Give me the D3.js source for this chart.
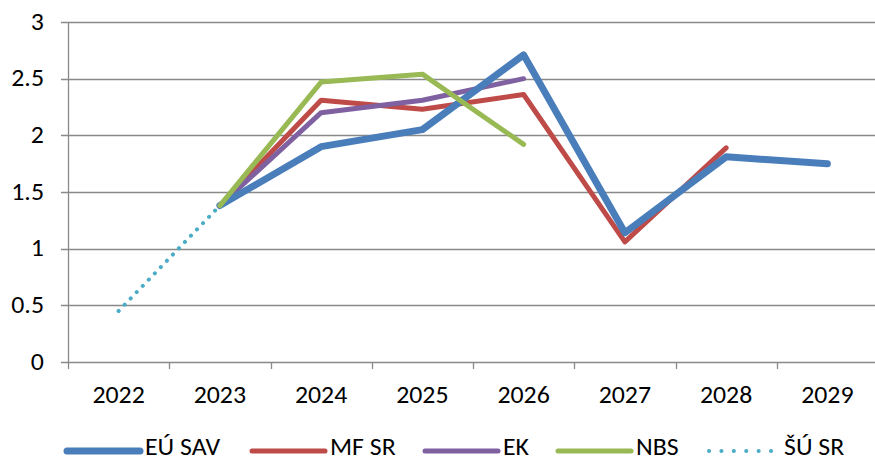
<!DOCTYPE html>
<html>
<head>
<meta charset="utf-8">
<script src="https://d3js.org/d3.v7.min.js"></script>
<style>
  body { margin: 0; background: #fff; }
  text { font-family: Carlito, Calibri, Lato, sans-serif; fill: #000; }
</style>
</head>
<body>
<div id="chart"></div>
<script>
const years = ["2022", "2023", "2024", "2025", "2026", "2027", "2028", "2029"];
const yTicks = [0, 0.5, 1, 1.5, 2, 2.5, 3];

// values per year, null = no data
const euSav = [null, 1.38, 1.90, 2.05, 2.71, 1.14, 1.81, 1.75];
const mfSr  = [null, 1.38, 2.31, 2.23, 2.36, 1.06, 1.89, null];
const ek    = [null, 1.38, 2.20, 2.31, 2.50, null, null, null];
const nbs   = [null, 1.38, 2.47, 2.54, 1.92, null, null, null];
const suSr  = [0.45, 1.38, null, null, null, null, null, null];

const series = [
  { name: "EÚ SAV", values: euSav, color: "#4a7ebb", width: 7 },
  { name: "MF SR",  values: mfSr,  color: "#be4b48", width: 5 },
  { name: "EK",     values: ek,    color: "#7f61a1", width: 5 },
  { name: "NBS",    values: nbs,   color: "#98b954", width: 5 },
  { name: "ŠÚ SR",  values: suSr,  color: "#4bacc6", width: 4, dotted: true }
];

const width = 875, height = 461;
const margin = { left: 68, right: 0, top: 22, bottom: 99 };
const fontSize = "23.5px";
const stretch = 1.1; // reference text is a bit wider than the fallback font

const svg = d3.select("#chart").append("svg")
  .attr("width", width)
  .attr("height", height);

const x = d3.scaleBand()
  .domain(years)
  .range([margin.left, 878]);

const y = d3.scaleLinear()
  .domain([0, 3])
  .range([height - margin.bottom, margin.top]);

function widen(sel) {
  sel.each(function () {
    const w = this.getComputedTextLength();
    d3.select(this)
      .attr("textLength", w * stretch)
      .attr("lengthAdjust", "spacingAndGlyphs");
  });
}

// gridlines
svg.append("g")
  .selectAll("line")
  .data(yTicks)
  .join("line")
  .attr("x1", margin.left - 7)
  .attr("x2", 878)
  .attr("y1", d => Math.round(y(d)) + 0.5)
  .attr("y2", d => Math.round(y(d)) + 0.5)
  .attr("stroke", "#898989")
  .attr("stroke-width", 1.3);

// y labels
svg.append("g")
  .selectAll("text")
  .data(yTicks)
  .join("text")
  .attr("x", 44)
  .attr("y", d => y(d))
  .attr("dy", "0.33em")
  .attr("text-anchor", "end")
  .style("font-size", fontSize)
  .text(d => d)
  .call(widen);

// y axis line
svg.append("line")
  .attr("x1", margin.left + 0.5).attr("x2", margin.left + 0.5)
  .attr("y1", y(3)).attr("y2", y(0) + 7)
  .attr("stroke", "#898989").attr("stroke-width", 1.3);

// x ticks at category boundaries
const bounds = years.map(d => x(d)).concat([x.range()[1]]);
svg.append("g")
  .selectAll("line")
  .data(bounds.slice(1))
  .join("line")
  .attr("x1", d => Math.round(d) + 0.5)
  .attr("x2", d => Math.round(d) + 0.5)
  .attr("y1", y(0))
  .attr("y2", y(0) + 7)
  .attr("stroke", "#898989")
  .attr("stroke-width", 1.3);

// x labels
svg.append("g")
  .selectAll("text")
  .data(years)
  .join("text")
  .attr("x", d => x(d) + x.bandwidth() / 2)
  .attr("y", 403)
  .attr("text-anchor", "middle")
  .style("font-size", fontSize)
  .text(d => d)
  .call(widen);

const line = d3.line()
  .defined(d => d != null)
  .x((d, i) => x(years[i]) + x.bandwidth() / 2)
  .y(d => y(d));

// stacking order as seen in the reference: green and dotted on top
const drawOrder = [series[1], series[2], series[0], series[3], series[4]];
svg.append("g")
  .selectAll("path")
  .data(drawOrder)
  .join("path")
  .attr("fill", "none")
  .attr("stroke", d => d.color)
  .attr("stroke-width", d => d.width)
  .attr("stroke-linecap", "round")
  .attr("stroke-linejoin", "round")
  .attr("stroke-dasharray", d => d.dotted ? "0.1 8.6" : null)
  .attr("d", d => line(d.values));

// legend
const legendX = [67, 252, 425, 558, 708];
const leg = svg.append("g")
  .selectAll("g")
  .data(series)
  .join("g")
  .attr("transform", (d, i) => `translate(${legendX[i]},451)`);

leg.append("line")
  .attr("x1", d => d.dotted ? 1 : 0)
  .attr("x2", d => d.dotted ? 64 : 73)
  .attr("stroke", d => d.color)
  .attr("stroke-width", d => d.width)
  .attr("stroke-linecap", "round")
  .attr("stroke-dasharray", d => d.dotted ? "0.1 12.3" : null);

leg.append("text")
  .attr("x", d => d.dotted ? 76 : 78)
  .attr("y", 4)
  .style("font-size", fontSize)
  .text(d => d.name)
  .call(widen);
</script>
</body>
</html>
